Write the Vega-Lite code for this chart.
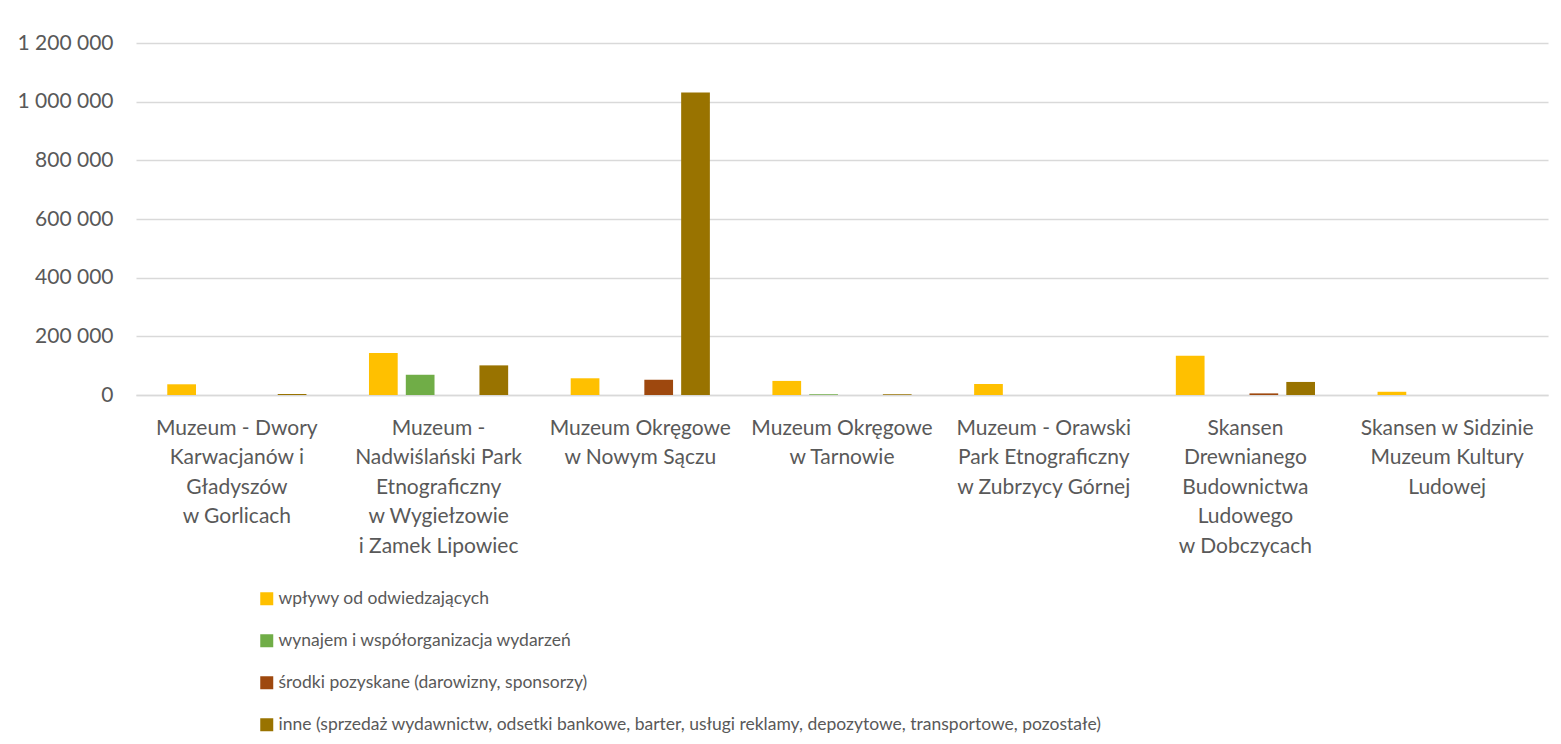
{
  "$schema": "https://vega.github.io/schema/vega-lite/v6.json",
  "autosize": {"type": "none"},
  "padding": {"left": 136, "top": 43, "right": 13, "bottom": 349},
  "width": 1412,
  "height": 352,
  "config": {
    "font": "Lato",
    "view": {"stroke": null},
    "locale": {"number": {"decimal": ",", "thousands": " ", "grouping": [3], "currency": ["", " zł"]}}
  },
  "data": {
    "values": [
      {"muzeum": "Muzeum - Dwory|Karwacjanów i|Gładyszów|w Gorlicach", "kategoria": "wpływy od odwiedzających", "wartosc": 36500},
      {"muzeum": "Muzeum - Dwory|Karwacjanów i|Gładyszów|w Gorlicach", "kategoria": "wynajem i współorganizacja wydarzeń", "wartosc": 0},
      {"muzeum": "Muzeum - Dwory|Karwacjanów i|Gładyszów|w Gorlicach", "kategoria": "środki pozyskane (darowizny, sponsorzy)", "wartosc": 0},
      {"muzeum": "Muzeum - Dwory|Karwacjanów i|Gładyszów|w Gorlicach", "kategoria": "inne (sprzedaż wydawnictw, odsetki bankowe, barter, usługi reklamy, depozytowe, transportowe, pozostałe)", "wartosc": 3500},
      {"muzeum": "Muzeum -|Nadwiślański Park|Etnograficzny|w Wygiełzowie|i Zamek Lipowiec", "kategoria": "wpływy od odwiedzających", "wartosc": 143000},
      {"muzeum": "Muzeum -|Nadwiślański Park|Etnograficzny|w Wygiełzowie|i Zamek Lipowiec", "kategoria": "wynajem i współorganizacja wydarzeń", "wartosc": 69000},
      {"muzeum": "Muzeum -|Nadwiślański Park|Etnograficzny|w Wygiełzowie|i Zamek Lipowiec", "kategoria": "środki pozyskane (darowizny, sponsorzy)", "wartosc": 0},
      {"muzeum": "Muzeum -|Nadwiślański Park|Etnograficzny|w Wygiełzowie|i Zamek Lipowiec", "kategoria": "inne (sprzedaż wydawnictw, odsetki bankowe, barter, usługi reklamy, depozytowe, transportowe, pozostałe)", "wartosc": 101000},
      {"muzeum": "Muzeum Okręgowe|w Nowym Sączu", "kategoria": "wpływy od odwiedzających", "wartosc": 57000},
      {"muzeum": "Muzeum Okręgowe|w Nowym Sączu", "kategoria": "wynajem i współorganizacja wydarzeń", "wartosc": 0},
      {"muzeum": "Muzeum Okręgowe|w Nowym Sączu", "kategoria": "środki pozyskane (darowizny, sponsorzy)", "wartosc": 52000},
      {"muzeum": "Muzeum Okręgowe|w Nowym Sączu", "kategoria": "inne (sprzedaż wydawnictw, odsetki bankowe, barter, usługi reklamy, depozytowe, transportowe, pozostałe)", "wartosc": 1031000},
      {"muzeum": "Muzeum Okręgowe|w Tarnowie", "kategoria": "wpływy od odwiedzających", "wartosc": 48000},
      {"muzeum": "Muzeum Okręgowe|w Tarnowie", "kategoria": "wynajem i współorganizacja wydarzeń", "wartosc": 2500},
      {"muzeum": "Muzeum Okręgowe|w Tarnowie", "kategoria": "środki pozyskane (darowizny, sponsorzy)", "wartosc": 0},
      {"muzeum": "Muzeum Okręgowe|w Tarnowie", "kategoria": "inne (sprzedaż wydawnictw, odsetki bankowe, barter, usługi reklamy, depozytowe, transportowe, pozostałe)", "wartosc": 2500},
      {"muzeum": "Muzeum - Orawski|Park Etnograficzny|w  Zubrzycy Górnej", "kategoria": "wpływy od odwiedzających", "wartosc": 37500},
      {"muzeum": "Muzeum - Orawski|Park Etnograficzny|w  Zubrzycy Górnej", "kategoria": "wynajem i współorganizacja wydarzeń", "wartosc": 0},
      {"muzeum": "Muzeum - Orawski|Park Etnograficzny|w  Zubrzycy Górnej", "kategoria": "środki pozyskane (darowizny, sponsorzy)", "wartosc": 0},
      {"muzeum": "Muzeum - Orawski|Park Etnograficzny|w  Zubrzycy Górnej", "kategoria": "inne (sprzedaż wydawnictw, odsetki bankowe, barter, usługi reklamy, depozytowe, transportowe, pozostałe)", "wartosc": 0},
      {"muzeum": "Skansen|Drewnianego|Budownictwa|Ludowego|w Dobczycach", "kategoria": "wpływy od odwiedzających", "wartosc": 134000},
      {"muzeum": "Skansen|Drewnianego|Budownictwa|Ludowego|w Dobczycach", "kategoria": "wynajem i współorganizacja wydarzeń", "wartosc": 0},
      {"muzeum": "Skansen|Drewnianego|Budownictwa|Ludowego|w Dobczycach", "kategoria": "środki pozyskane (darowizny, sponsorzy)", "wartosc": 5500},
      {"muzeum": "Skansen|Drewnianego|Budownictwa|Ludowego|w Dobczycach", "kategoria": "inne (sprzedaż wydawnictw, odsetki bankowe, barter, usługi reklamy, depozytowe, transportowe, pozostałe)", "wartosc": 44500},
      {"muzeum": "Skansen w Sidzinie|Muzeum Kultury|Ludowej", "kategoria": "wpływy od odwiedzających", "wartosc": 11000},
      {"muzeum": "Skansen w Sidzinie|Muzeum Kultury|Ludowej", "kategoria": "wynajem i współorganizacja wydarzeń", "wartosc": 0},
      {"muzeum": "Skansen w Sidzinie|Muzeum Kultury|Ludowej", "kategoria": "środki pozyskane (darowizny, sponsorzy)", "wartosc": 0},
      {"muzeum": "Skansen w Sidzinie|Muzeum Kultury|Ludowej", "kategoria": "inne (sprzedaż wydawnictw, odsetki bankowe, barter, usługi reklamy, depozytowe, transportowe, pozostałe)", "wartosc": 0}
    ]
  },
  "mark": {"type": "bar"},
  "encoding": {
    "x": {
      "field": "muzeum",
      "type": "nominal",
      "sort": null,
      "scale": {"paddingInner": 0.31, "paddingOuter": 0.155},
      "axis": {
        "title": null,
        "labelAngle": 0,
        "labelExpr": "split(datum.label, '|')",
        "labelFontSize": 21,
        "labelColor": "#595959",
        "labelLineHeight": 29.5,
        "labelPadding": 22,
        "labelLimit": 0,
        "labelBaseline": "top",
        "ticks": false,
        "domainColor": "#d9d9d9",
        "domainWidth": 1.5
      }
    },
    "xOffset": {
      "field": "kategoria",
      "type": "nominal",
      "sort": ["wpływy od odwiedzających", "wynajem i współorganizacja wydarzeń", "środki pozyskane (darowizny, sponsorzy)", "inne (sprzedaż wydawnictw, odsetki bankowe, barter, usługi reklamy, depozytowe, transportowe, pozostałe)"],
      "scale": {"paddingInner": 0.22, "paddingOuter": 0}
    },
    "y": {
      "field": "wartosc",
      "type": "quantitative",
      "scale": {"domain": [0, 1200000], "nice": false},
      "axis": {
        "title": null,
        "values": [0, 200000, 400000, 600000, 800000, 1000000, 1200000],
        "format": ",d",
        "labelFontSize": 21,
        "labelColor": "#595959",
        "labelPadding": 23,
        "ticks": false,
        "domain": false,
        "gridColor": "#d9d9d9",
        "gridWidth": 1.5
      }
    },
    "color": {
      "field": "kategoria",
      "type": "nominal",
      "scale": {
        "domain": ["wpływy od odwiedzających", "wynajem i współorganizacja wydarzeń", "środki pozyskane (darowizny, sponsorzy)", "inne (sprzedaż wydawnictw, odsetki bankowe, barter, usługi reklamy, depozytowe, transportowe, pozostałe)"],
        "range": ["#FFC000", "#70AD47", "#9E480E", "#997300"]
      },
      "legend": {
        "title": null,
        "orient": "none",
        "legendX": 122,
        "legendY": 547,
        "direction": "vertical",
        "symbolType": "square",
        "symbolSize": 169,
        "symbolStrokeWidth": 0,
        "labelFontSize": 17.5,
        "labelColor": "#595959",
        "labelLimit": 0,
        "labelOffset": 3,
        "rowPadding": 23
      }
    }
  }
}
